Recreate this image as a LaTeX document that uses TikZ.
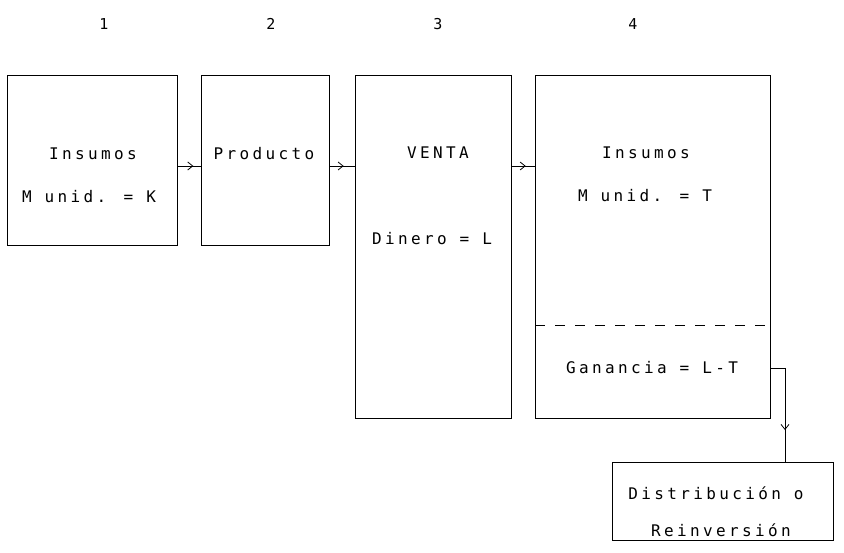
\documentclass[tikz,border=0pt]{standalone}
\usepackage{fontspec}
\newfontfamily\plotfont[LetterSpace=21]{DejaVu Sans Mono}
\usetikzlibrary{arrows.meta,decorations.markings}
\tikzset{
  box/.style={draw, line width=0.8pt, inner sep=0pt, anchor=north west},
  lbl/.style={inner sep=0pt, font=\plotfont\fontsize{16}{18}\selectfont},
  num/.style={inner sep=0pt, font=\plotfont\fontsize{15}{17}\selectfont},
  conn/.style={line width=0.8pt, postaction={decorate},
    decoration={markings, mark=at position #1 with {\arrow{Straight Barb[length=5pt,width=8pt,line width=0.8pt]}}}},
  conn/.default=0.65
}
\begin{document}
\begin{tikzpicture}[x=1pt,y=-1pt]
\useasboundingbox (0,0) rectangle (844,553);
% numbers
\node[num] (n1) at (104,24) {1};
\node[num] (n2) at (271,24) {2};
\node[num] (n3) at (438,24) {3};
\node[num] (n4) at (633,24) {4};
% boxes
\node[box, minimum width=170pt, minimum height=170pt] (b1) at (7,75) {};
\node[box, minimum width=128pt, minimum height=170pt] (b2) at (201,75) {};
\node[box, minimum width=156pt, minimum height=343pt] (b3) at (355,75) {};
\node[box, minimum width=235pt, minimum height=343pt] (b4) at (535,75) {};
\node[box, minimum width=221pt, minimum height=78pt] (b5) at (612,462) {};
% dashed divider in box 4
\coordinate (dv) at (0,325);
\draw[line width=0.8pt, dash pattern=on 10pt off 10pt] (b4.west |- dv) -- (b4.east |- dv);
% texts
\node[lbl] (t1a) at (93,154) {Insumos};
\node[lbl] (t1b) at (89,197) {M unid. = K};
\node[lbl] (t2) at (264,154) {Producto};
\node[lbl] (t3a) at (438,153) {VENTA};
\node[lbl] (t3b) at (432,239) {Dinero = L};
\node[lbl] (t4a) at (646,153) {Insumos};
\node[lbl] (t4b) at (645,196) {M unid. = T};
\node[lbl] (t4c) at (652,368) {Ganancia = L-T};
\node[lbl] (t5a) at (716,493) {Distribución o};
\node[lbl] (t5b) at (721,530) {Reinversión};
% connectors
\coordinate (ay) at (0,166);
\draw[conn=0.67] (b1.east |- ay) -- (b2.west |- ay);
\draw[conn=0.55] (b2.east |- ay) -- (b3.west |- ay);
\draw[conn=0.6] (b3.east |- ay) -- (b4.west |- ay);
\coordinate (cg) at (785,368);
\draw[line width=0.8pt] (b4.east |- cg) -- (cg);
\draw[conn=0.66] (cg) -- (cg |- b5.north);
\end{tikzpicture}
\end{document}
